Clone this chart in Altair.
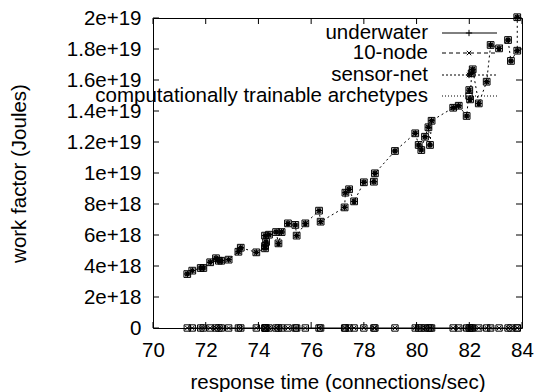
import altair as alt
import pandas as pd

# ---- data ----
response_time = [71.30, 71.49, 71.81, 71.91, 72.17, 72.39, 72.50, 72.59, 72.87, 73.24,
                 73.33, 73.92, 74.25, 74.25, 74.29, 74.25, 74.40, 74.67, 74.76, 74.88,
                 75.12, 75.40, 75.45, 75.78, 76.30, 76.36, 77.27, 77.30, 77.44, 77.63,
                 78.00, 78.38, 78.42, 79.18, 79.95, 80.08, 80.18, 80.32, 80.45, 80.51,
                 80.57, 81.39, 81.60, 81.90, 82.00, 82.03, 82.09, 82.13, 82.36, 82.66,
                 82.81, 83.13, 83.47, 83.58, 83.82, 83.82]
work_factor_e18 = [3.48, 3.70, 3.87, 3.87, 4.24, 4.50, 4.34, 4.34, 4.41, 4.92,
                   5.18, 4.88, 5.14, 5.29, 5.55, 5.96, 6.02, 6.19, 5.46, 6.19,
                   6.75, 6.65, 5.96, 6.75, 7.57, 6.86, 7.78, 8.73, 8.95, 8.17,
                   9.40, 9.44, 9.98, 11.42, 12.56, 11.81, 11.48, 12.34, 12.95, 11.81,
                   13.37, 14.21, 14.34, 13.68, 15.35, 14.75, 16.43, 16.69, 14.49, 15.89,
                   18.26, 18.04, 18.58, 17.23, 17.89, 20.05]
underwater_e18 = [0.0] * len(response_time)
x_ticks = [70, 72, 74, 76, 78, 80, 82, 84]
y_ticks_e18 = [0, 2, 4, 6, 8, 10, 12, 14, 16, 18, 20]
legend_names = ["underwater", "10-node", "sensor-net",
                "computationally trainable archetypes"]

FONT = "Liberation Sans"
FS = 20.5
W, H = 369, 310

df = pd.DataFrame({"t": response_time, "w": [v * 1e18 for v in work_factor_e18]})
df["order"] = range(len(df))
df0 = pd.DataFrame({"t": response_time, "w": [v * 1e18 for v in underwater_e18]})
df0["order"] = range(len(df0))
dfx = pd.DataFrame({"t": x_ticks})
dfy = pd.DataFrame({"w": [v * 1e18 for v in y_ticks_e18]})

xs = alt.Scale(domain=[70, 84], nice=False, zero=False)
ys = alt.Scale(domain=[0, 2e19], nice=False, zero=False)

X = alt.X("t:Q", scale=xs,
          axis=alt.Axis(values=x_ticks, title="response time (connections/sec)",
                        titleY=44, titleBaseline="top", labelPadding=12,
                        labelFlush=False, labelOverlap=False))
Y = alt.Y("w:Q", scale=ys,
          axis=alt.Axis(values=[v * 1e18 for v in y_ticks_e18],
                        labelExpr="datum.value == 0 ? '0' : format(datum.value, '~e')",
                        title="work factor (Joules)", titleX=-124, titleY=155,
                        titleAngle=270, titleBaseline="bottom", titleAlign="center",
                        labelPadding=12, labelFlush=False, labelOverlap=False))

ASTER = "M-1,0L1,0M0,-1L0,1M-0.7,-0.7L0.7,0.7M-0.7,0.7L0.7,-0.7"
XCROSS = "M-0.7,-0.7L0.7,0.7M-0.7,0.7L0.7,-0.7"
PLUS = "M-1,0L1,0M0,-1L0,1"

# main dotted trace
trace = alt.Chart(df).mark_line(color="black", strokeWidth=1, strokeDash=[2, 3]).encode(
    x=X, y=Y, order="order:Q")
pts_sq = alt.Chart(df).mark_point(shape="square", size=45, color="black", strokeWidth=1,
                                  opacity=1, filled=False).encode(x=X, y=Y)
pts_st = alt.Chart(df).mark_point(shape=ASTER, size=40, color="black", strokeWidth=1.4,
                                  opacity=1, filled=False).encode(x=X, y=Y)

# underwater series at zero
base_line = alt.Chart(df0).mark_line(color="black", strokeWidth=1).encode(
    x=X, y=Y, order="order:Q")
base_sq = alt.Chart(df0).mark_point(shape="square", size=40, color="black", strokeWidth=1,
                                    opacity=1, filled=False).encode(x=X, y=Y)
base_x = alt.Chart(df0).mark_point(shape=XCROSS, size=40, color="black", strokeWidth=1,
                                   opacity=1, filled=False).encode(x=X, y=Y)

# inward ticks (gnuplot style, mirrored)
tx_b = alt.Chart(dfx).mark_rule(color="black").encode(x=X, y=alt.value(H), y2=alt.value(H - 6))
tx_t = alt.Chart(dfx).mark_rule(color="black").encode(x=X, y=alt.value(0), y2=alt.value(6))
ty_l = alt.Chart(dfy).mark_rule(color="black").encode(y=Y, x=alt.value(0), x2=alt.value(6))
ty_r = alt.Chart(dfy).mark_rule(color="black").encode(y=Y, x=alt.value(W - 6), x2=alt.value(W))

# manual legend (label left of sample, as in gnuplot)
leg_y = [15, 35, 57, 78]
leg_dash = [None, [4, 3], [2, 2], [1, 2]]
leg_shape = [PLUS, XCROSS, ASTER, "square"]
legend_layers = []
for name, ly, dash, shp in zip(legend_names, leg_y, leg_dash, leg_shape):
    ldf = pd.DataFrame({"name": [name]})
    legend_layers.append(alt.Chart(ldf).mark_text(
        align="right", baseline="middle", fontSize=FS, font=FONT, color="black").encode(
        text="name:N", x=alt.value(275), y=alt.value(ly)))
    rule_kw = dict(color="black", strokeWidth=1)
    if dash:
        rule_kw["strokeDash"] = dash
    legend_layers.append(alt.Chart(ldf).mark_rule(**rule_kw).encode(
        x=alt.value(289), x2=alt.value(344), y=alt.value(ly)))
    legend_layers.append(alt.Chart(ldf).mark_point(
        shape=shp, size=40, color="black", filled=False, opacity=1, strokeWidth=1).encode(
        x=alt.value(316), y=alt.value(ly)))

chart = alt.layer(
    trace, base_line, tx_b, tx_t, ty_l, ty_r, pts_sq, pts_st, base_sq, base_x,
    *legend_layers
).properties(
    width=W, height=H,
    padding={"left": 153, "top": 18, "right": 14, "bottom": 64},
    autosize=alt.AutoSizeParams(type="none"),
).configure(font=FONT).configure_view(
    stroke="black", strokeWidth=1
).configure_axis(
    grid=False, domain=False, ticks=False, tickSize=0,
    labelFont=FONT, labelFontSize=FS, labelColor="black",
    titleFont=FONT, titleFontSize=FS, titleFontWeight="normal", titleColor="black",
)

chart.save("out.html", embed_options={"renderer": "svg", "actions": False})
